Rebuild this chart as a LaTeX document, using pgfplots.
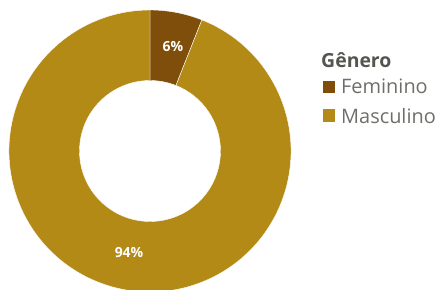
\documentclass[border=0pt]{standalone}
\usepackage{pgfplots}
\pgfplotsset{compat=1.18}
\usepackage{pgfplotstable}
\usepackage{fontspec}
\setmainfont{Open Sans}
\definecolor{fem}{HTML}{7F4E0B}
\definecolor{mas}{HTML}{B38A16}
\definecolor{legtxt}{HTML}{6E6E6A}
\definecolor{legtitle}{HTML}{55554F}
\pgfplotstableread{
genero valor
Feminino 6
Masculino 94
}\generodata
\begin{document}%
\begin{tikzpicture}
\pgfplotstablegetelem{0}{valor}\of\generodata
\edef\vfem{\pgfplotsretval}
\pgfplotstablegetelem{1}{valor}\of\generodata
\edef\vmas{\pgfplotsretval}
\begin{axis}[width=441bp,height=290bp,scale only axis,
  xmin=0,xmax=441,ymin=0,ymax=290,hide axis,clip=false]
\coordinate (sw) at (axis cs:0,0);
\coordinate (ne) at (axis cs:441,290);
\coordinate (c) at (axis cs:150,139);
\pgfmathsetmacro\afem{90-3.6*\vfem}
\pgfmathsetmacro\amas{\afem-3.6*\vmas}
\fill[fem,draw=white,line width=0.4bp] ([shift={(90:141bp)}]c) arc[start angle=90,end angle=\afem,radius=141bp]
  -- ([shift={(\afem:70.5bp)}]c) arc[start angle=\afem,end angle=90,radius=70.5bp] -- cycle;
\fill[mas,draw=white,line width=0.4bp] ([shift={(\afem:141bp)}]c) arc[start angle=\afem,end angle=\amas,radius=141bp]
  -- ([shift={(\amas:70.5bp)}]c) arc[start angle=\amas,end angle=\afem,radius=70.5bp] -- cycle;
\node[white,font=\bfseries\fontsize{14}{14}\selectfont] at (axis cs:173,243) {\vfem\%};
\node[white,font=\bfseries\fontsize{14}{14}\selectfont] at (axis cs:129,37) {\vmas\%};
% legend
\node[anchor=base west,inner sep=0,text=legtitle,font=\bfseries\fontsize{19.5}{19.5}\selectfont] at (axis cs:321,223) {Gênero};
\fill[fem] (axis cs:322.7,196.7) rectangle (axis cs:334.7,208.5);
\node[anchor=base west,inner sep=0,text=legtxt,font=\fontsize{20}{20}\selectfont] at (axis cs:341,196.7) {Feminino};
\fill[mas] (axis cs:322.7,168.3) rectangle (axis cs:334.7,180.5);
\node[anchor=base west,inner sep=0,text=legtxt,font=\fontsize{20}{20}\selectfont] at (axis cs:341,166.7) {Masculino};
\end{axis}
\pgfresetboundingbox
\path (sw) rectangle (ne);
\end{tikzpicture}%
\end{document}
